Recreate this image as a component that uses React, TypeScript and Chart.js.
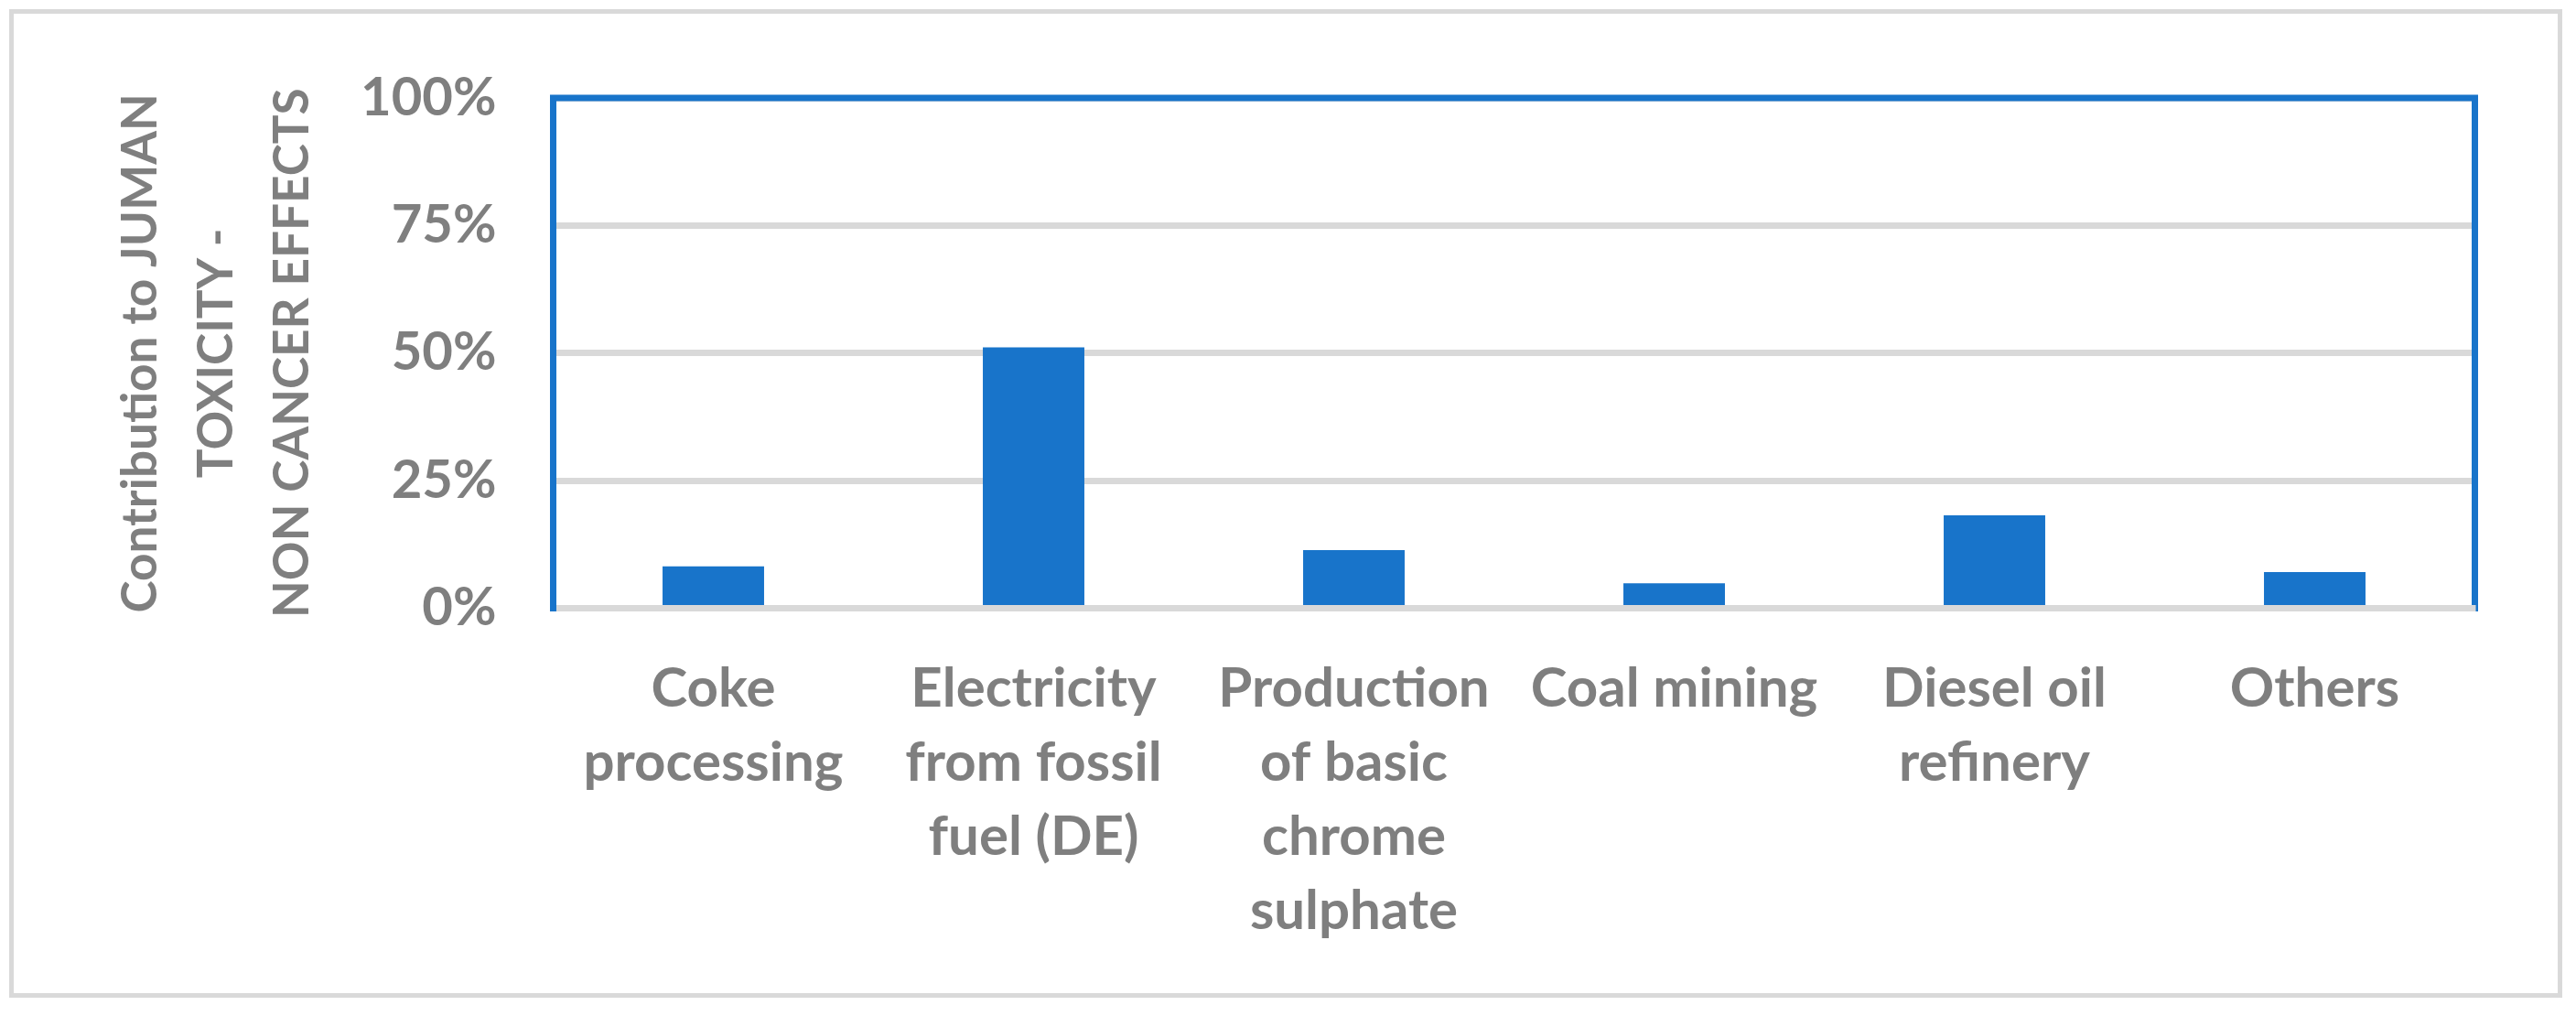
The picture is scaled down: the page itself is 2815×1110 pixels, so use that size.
import React, { useEffect, useRef } from "react";
import { Chart, registerables } from "chart.js";

Chart.register(...registerables);

// ---- data ----
const categories: string[][] = [
  ["Coke", "processing"],
  ["Electricity", "from fossil", "fuel (DE)"],
  ["Production", "of basic", "chrome", "sulphate"],
  ["Coal mining"],
  ["Diesel oil", "refinery"],
  ["Others"],
];
const contributionPct: number[] = [8.2, 51.1, 11.4, 4.9, 18.2, 7.1];
const yTickStep = 25;
const yMin = 0;
const yMax = 100;
const yTitleLines: string[] = ["Contribution to JUMAN", "TOXICITY -", "NON CANCER EFFECTS"];

// ---- styles ----
const BLUE = "#1874CA";
const GRID = "#d9d9d9";
const TEXT = "#7f7f7f";
const FONT = 'Lato, "Open Sans", sans-serif';
const W = 2815;
const H = 1110;

const framePlugin = {
  id: "frame",
  beforeDraw(chart: any) {
    const { ctx } = chart;
    ctx.save();
    ctx.fillStyle = "#ffffff";
    ctx.fillRect(0, 0, chart.width, chart.height);
    ctx.strokeStyle = GRID;
    ctx.lineWidth = 5;
    ctx.strokeRect(12.5, 12.5, 2797.5 - 12.5, 1087.5 - 12.5);
    ctx.restore();
  },
  afterDatasetsDraw(chart: any) {
    const { ctx, chartArea } = chart;
    const { left, top, right, bottom } = chartArea;
    ctx.save();
    ctx.strokeStyle = BLUE;
    ctx.lineWidth = 7;
    ctx.strokeRect(left, top, right - left, bottom - top);
    const y0 = chart.scales.y.getPixelForValue(0);
    ctx.strokeStyle = GRID;
    ctx.lineWidth = 7;
    ctx.beginPath();
    ctx.moveTo(left + 3.5, y0);
    ctx.lineTo(right + 1, y0);
    ctx.stroke();
    ctx.restore();
  },
};

export default function App() {
  const canvasRef = useRef<HTMLCanvasElement | null>(null);

  useEffect(() => {
    const canvas = canvasRef.current;
    if (!canvas) return;
    const chart = new Chart(canvas, {
      type: "bar",
      data: {
        labels: categories,
        datasets: [
          {
            data: contributionPct,
            backgroundColor: BLUE,
            borderWidth: 0,
            barPercentage: 0.317,
            categoryPercentage: 1,
          },
        ],
      },
      options: {
        responsive: false,
        animation: false,
        devicePixelRatio: 1,
        layout: { padding: { top: 107, right: 110.5, bottom: 0, left: 0 } },
        plugins: {
          legend: { display: false },
          tooltip: { enabled: false },
        },
        scales: {
          x: {
            grid: { display: false, drawTicks: false },
            border: { display: false },
            ticks: {
              color: TEXT,
              font: { family: FONT, size: 60, weight: "bold", lineHeight: 1.35 },
              padding: 48,
              maxRotation: 0,
              minRotation: 0,
              autoSkip: false,
            },
            afterFit(scale: any) {
              scale.height = H - 664.5;
            },
          },
          y: {
            min: yMin,
            max: yMax,
            grid: { color: GRID, lineWidth: 7, drawTicks: false },
            border: { display: false },
            ticks: {
              stepSize: yTickStep,
              color: TEXT,
              font: { family: FONT, size: 58, weight: "bold" },
              padding: 62,
              callback: (v: any) => `${v}%`,
            },
            title: {
              display: true,
              text: yTitleLines,
              color: TEXT,
              font: { family: FONT, size: 53, weight: "bold", lineHeight: 1.566 },
              padding: { top: 112.5, bottom: 0 },
            },
            afterFit(scale: any) {
              scale.width = 604.5;
            },
          },
        },
      },
      plugins: [framePlugin],
    });
    return () => chart.destroy();
  }, []);

  return (
    <div style={{ position: "absolute", left: 0, top: 0, width: W, height: H, background: "#fff" }}>
      <canvas ref={canvasRef} width={W} height={H} style={{ display: "block", width: W, height: H }} />
    </div>
  );
}
